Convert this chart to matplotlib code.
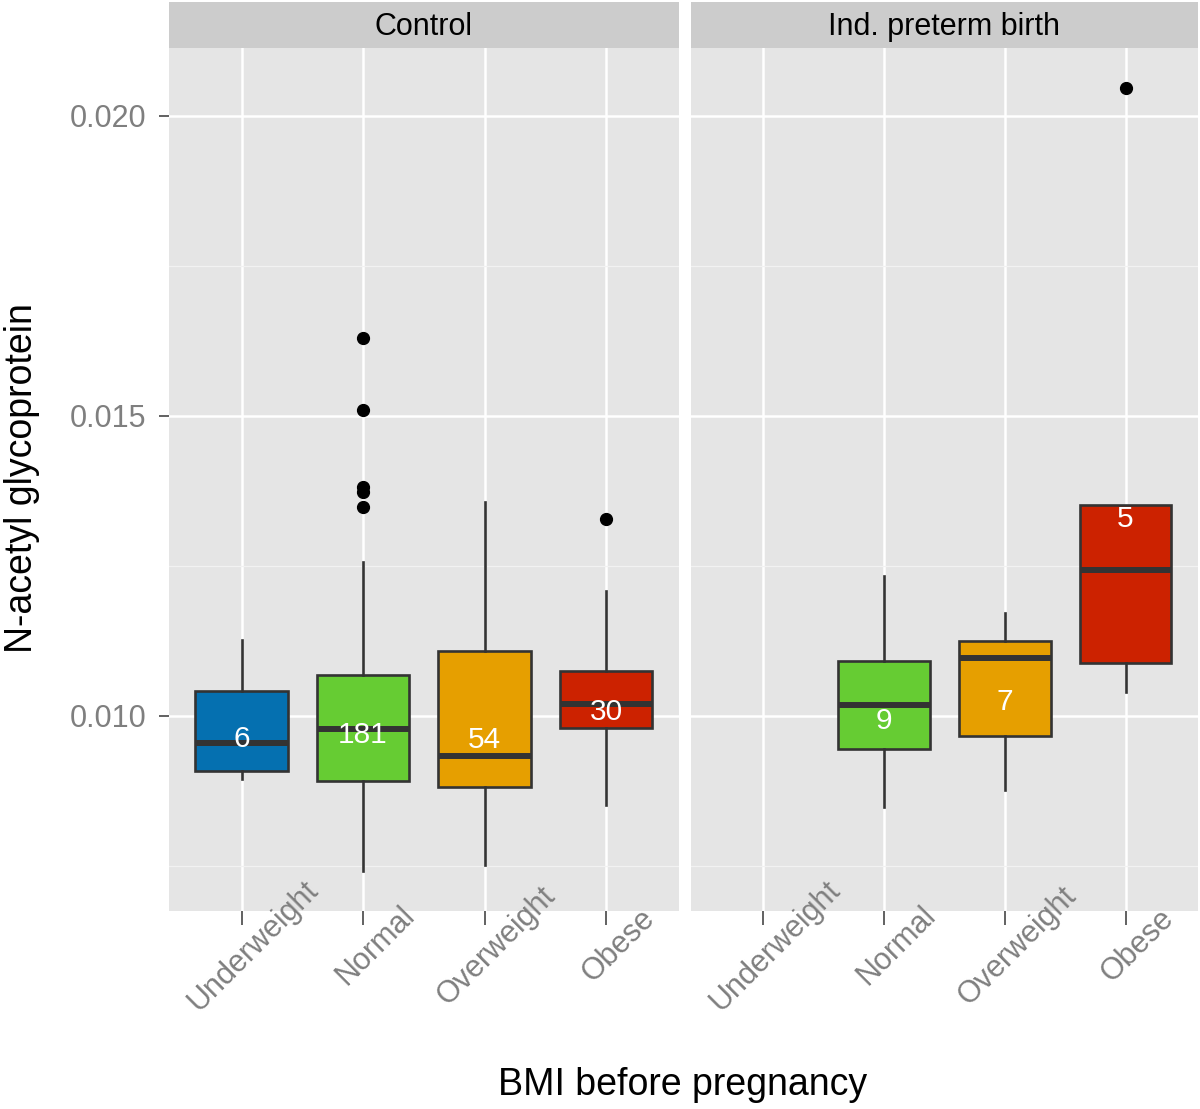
import matplotlib
matplotlib.use('Agg')
import matplotlib.pyplot as plt
import matplotlib.transforms as mtransforms
from matplotlib.ticker import MultipleLocator

plt.rcParams['font.family'] = ['Liberation Sans', 'DejaVu Sans']

#%% data
categories = ['Underweight', 'Normal', 'Overweight', 'Obese']
fill_colors = ['#0570B0', '#66CC33', '#E69F00', '#CC2200']

# Control
ctrl_whislo = [0.00895, 0.00741, 0.00752, 0.00851]
ctrl_q1 = [0.00909, 0.00892, 0.00882, 0.00980]
ctrl_med = [0.00955, 0.00978, 0.00933, 0.01020]
ctrl_q3 = [0.01041, 0.01068, 0.01109, 0.01075]
ctrl_whishi = [0.01127, 0.01257, 0.01357, 0.01208]
ctrl_fliers = [[], [0.01630, 0.01510, 0.01381, 0.01374, 0.01348], [], [0.01328]]
ctrl_n = [6, 181, 54, 30]
ctrl_label_y = [0.00962, 0.00968, 0.00960, 0.01007]

# Ind. preterm birth (no Underweight)
pre_cats = ['Normal', 'Overweight', 'Obese']
pre_whislo = [0.00849, 0.00877, 0.01040]
pre_q1 = [0.00945, 0.00966, 0.01089]
pre_med = [0.01018, 0.01097, 0.01243]
pre_q3 = [0.01092, 0.01125, 0.01352]
pre_whishi = [0.01234, 0.01171, 0.01352]
pre_fliers = [[], [], [0.02047]]
pre_n = [9, 7, 5]
pre_label_y = [0.00992, 0.01024, 0.01328]

panels = [
  ('Control', categories, ctrl_whislo, ctrl_q1, ctrl_med, ctrl_q3, ctrl_whishi, ctrl_fliers, ctrl_n, ctrl_label_y),
  ('Ind. preterm birth', pre_cats, pre_whislo, pre_q1, pre_med, pre_q3, pre_whishi, pre_fliers, pre_n, pre_label_y),
]

#%%
W, H = 1200, 1109
fig = plt.figure(figsize=(W/100, H/100), dpi=100)

panel_top, panel_bot = 48, 911
strip_top = 2
panel_x = [(168.6, 510.4), (691, 507)]

edge = '#333333'
text_grey = '#7F7F7F'

for i, (title, cats, wlo, q1, med, q3, whi, fl, n, ly) in enumerate(panels):
  x0, w = panel_x[i]
  ax = fig.add_axes([x0/W, (H-panel_bot)/H, w/W, (panel_bot-panel_top)/H])
  ax.set_facecolor('#E5E5E5')
  for s in ax.spines.values():
    s.set_visible(False)

  pos = [categories.index(c) + 1 for c in cats]
  stats = [dict(whislo=a, q1=b, med=c, q3=d, whishi=e, fliers=f)
           for a, b, c, d, e, f in zip(wlo, q1, med, q3, whi, fl)]
  bp = ax.bxp(stats, positions=pos, widths=0.76, patch_artist=True, showcaps=False,
              boxprops=dict(edgecolor=edge, linewidth=1.9),
              medianprops=dict(color=edge, linewidth=4.3, solid_capstyle='butt'),
              whiskerprops=dict(color=edge, linewidth=1.9),
              flierprops=dict(marker='o', markerfacecolor='black', markeredgecolor='black', markersize=8.5),
              zorder=3)
  for patch, c in zip(bp['boxes'], cats):
    patch.set_facecolor(fill_colors[categories.index(c)])

  for p, cnt, yy in zip(pos, n, ly):
    ax.text(p, yy, str(cnt), color='white', fontsize=21.5, ha='center', va='center', zorder=5)

  ax.set_xlim(0.4, 4.6)
  ax.set_ylim(0.00675, 0.021133)
  ax.set_xticks(range(1, 5))
  ax.set_xticklabels(categories)
  ax.yaxis.set_major_locator(MultipleLocator(0.005))
  ax.yaxis.set_minor_locator(MultipleLocator(0.0025))
  ax.set_axisbelow(True)
  ax.grid(which='major', color='white', linewidth=1.8)
  ax.grid(which='minor', axis='y', color='#F2F2F2', linewidth=0.9)
  ax.tick_params(axis='y', which='minor', length=0)
  ax.tick_params(axis='x', length=10, width=1.3, color='#555555', pad=15)
  for lab in ax.get_xticklabels():
    lab.set_rotation(45)
    lab.set_rotation_mode('anchor')
    lab.set_ha('center')
    lab.set_va('center')
    lab.set_fontsize(22)
    lab.set_color(text_grey)
    lab.set_transform(lab.get_transform() + mtransforms.ScaledTranslation(0.12, 0, fig.dpi_scale_trans))

  if i == 0:
    ax.set_yticklabels([f'{v:.3f}' for v in ax.get_yticks()])
    ax.tick_params(axis='y', which='major', length=7, width=1.3, color='#555555', pad=9,
                   labelsize=22, labelcolor=text_grey)
  else:
    ax.tick_params(axis='y', which='major', length=0, labelleft=False)

  # facet strip
  sax = fig.add_axes([x0/W, (H-panel_top)/H, w/W, (panel_top-strip_top)/H])
  sax.set_facecolor('#CCCCCC')
  sax.set_xticks([])
  sax.set_yticks([])
  for s in sax.spines.values():
    s.set_visible(False)
  sax.text(0.5, 0.45, title, fontsize=22, color='black', ha='center', va='center', transform=sax.transAxes)

fig.text(683/W, 1 - 1085/H, 'BMI before pregnancy', fontsize=27, ha='center', va='center')
fig.text(22/W, 1 - 478/H, 'N-acetyl glycoprotein', fontsize=27, ha='center', va='center', rotation=90)

fig.savefig('out.png', dpi=100)
